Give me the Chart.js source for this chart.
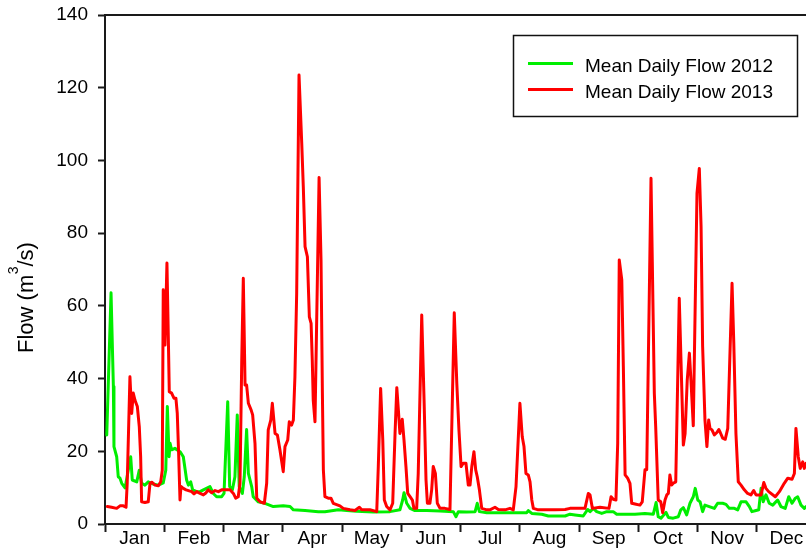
<!DOCTYPE html>
<html>
<head>
<meta charset="utf-8">
<title>Mean Daily Flow</title>
<script src="https://cdn.jsdelivr.net/npm/chart.js@4"></script>
<style>
  html, body { margin: 0; padding: 0; overflow: hidden; background: #fff; }
  #wrap { position: absolute; left: 0; top: 0; width: 830px; height: 554px; }
</style>
</head>
<body>
<div id="wrap"><canvas id="flowChart"></canvas></div>
<script>
// Month names shown under the axis (one per equal-width month band)
const monthLabels = ['Jan', 'Feb', 'Mar', 'Apr', 'May', 'Jun', 'Jul', 'Aug', 'Sep', 'Oct', 'Nov', 'Dec'];
const yTickValues = [0, 20, 40, 60, 80, 100, 120, 140];

// Mean daily flow 2012 (day of year, m3/s)
const days2012 = [0.9,3.1,4.3,4.6,6.0,6.8,7.7,8.6,10.3,13.2,
  14.0,16.3,17.6,18.8,20.5,22.2,24.8,27.4,29.9,31.2,
  32.0,32.9,33.4,34.2,35.9,38.5,40.2,41.9,42.8,44.0,
  45.0,47.1,48.8,50.5,53.9,55.6,57.3,59.9,61.1,63.0,
  64.0,65.4,66.7,67.9,68.9,70.5,71.5,72.7,73.6,75.3,
  76.1,78.7,82.1,86.4,91.5,95.0,96.7,102.7,109.5,112.9,
  119.8,124.1,129.2,137.7,146.3,151.4,152.8,153.5,154.9,156.6,
  159.1,165.2,172.0,178.8,180.2,181.4,185.7,190.0,191.1,192.2,
  196.0,202.8,209.6,216.5,217.3,219.1,224.2,227.6,236.2,238.7,
  241.3,245.5,247.8,249.0,250.7,252.4,255.0,257.6,260.9,262.7,
  272.1,277.2,281.5,282.9,284.0,285.4,288.0,289.2,291.7,294.3,
  295.6,296.9,298.6,300.3,302.0,303.0,304.3,305.5,306.8,308.0,
  310.2,312.8,314.5,317.1,318.8,320.5,323.1,324.8,326.5,329.1,
  330.8,332.1,334.2,335.6,336.8,337.9,339.3,341.0,342.8,345.3,
  347.0,349.2,351.0,352.7,354.4,355.6,357.3,359.0,359.9];
const flow2012 = [24.5,63.6,37.8,21.3,18.5,13.0,12.6,11.2,9.9,18.5,
  12.1,11.6,14.8,11.2,10.7,11.6,11.0,10.7,11.3,14.8,
  32.3,18.5,22.2,20.4,20.8,19.9,18.5,12.1,10.7,11.6,
  9.4,8.9,8.9,9.4,10.3,8.4,7.5,7.5,8.4,33.6,
  10.3,9.4,13.0,30.0,10.3,8.4,13.0,26.0,13.9,10.3,
  7.5,6.1,5.7,4.8,5.0,4.8,3.9,3.7,3.4,3.4,
  3.9,3.7,3.5,3.3,3.4,3.9,6.6,8.6,5.7,4.3,
  3.7,3.7,3.6,3.4,2.0,3.4,3.3,3.4,5.7,3.4,
  3.1,3.1,3.1,3.1,3.7,2.9,2.7,2.2,2.2,2.7,
  2.5,2.2,4.0,3.4,4.3,3.4,2.9,3.4,3.4,2.7,
  2.7,2.9,2.7,5.9,2.0,1.6,3.2,1.8,1.6,2.0,
  3.9,4.5,2.5,5.7,7.5,9.8,6.6,6.1,3.4,5.2,
  4.8,4.3,5.7,5.7,5.4,4.3,4.3,3.9,6.1,6.1,
  4.8,3.4,3.7,3.9,9.8,6.1,8.0,5.7,5.2,6.6,
  4.8,4.3,7.5,5.7,7.1,7.5,5.2,4.3,4.8];

// Mean daily flow 2013 (day of year, m3/s)
const days2013 = [1.2,3.4,6.0,7.7,9.4,10.8,11.4,12.8,13.7,14.5,
  15.4,16.6,17.6,18.3,18.8,20.5,22.2,23.1,24.0,25.7,
  27.4,28.6,29.4,29.9,30.8,31.8,32.5,33.0,34.2,35.4,
  36.4,37.1,37.8,38.5,39.0,40.2,41.6,44.5,45.7,47.1,
  48.8,50.5,51.9,53.0,54.8,56.5,58.2,59.9,62.5,64.2,
  65.9,67.1,68.4,69.3,70.2,71.0,71.9,72.7,73.6,75.0,
  75.8,77.0,77.9,79.6,81.8,83.0,83.8,85.1,85.9,87.3,
  88.5,89.8,91.5,92.4,93.8,94.6,95.8,96.7,97.5,98.4,
  99.6,101.0,101.8,102.7,103.9,104.9,105.8,106.4,106.9,107.8,
  109.9,110.9,111.6,112.1,112.9,114.6,116.0,117.2,120.6,122.3,
  125.8,128.3,130.6,131.8,136.0,139.5,140.3,141.5,142.6,143.4,
  144.6,146.3,147.7,148.9,149.8,150.6,151.4,152.6,153.5,154.5,
  155.4,156.6,157.8,158.6,160.0,160.8,162.6,163.8,164.8,165.5,
  166.8,167.7,168.5,169.6,170.6,172.0,174.5,177.1,179.3,180.6,
  181.7,182.8,183.9,185.3,186.5,187.4,188.3,189.4,190.3,191.1,
  192.2,193.4,196.0,197.6,200.2,201.9,205.3,207.9,209.6,211.0,
  213.0,214.2,215.1,216.1,217.3,218.2,219.1,219.9,222.4,225.9,
  231.0,236.2,238.7,246.4,248.1,249.0,250.2,254.1,258.7,259.8,
  260.9,262.3,263.2,264.0,265.3,266.1,267.0,268.3,269.5,270.4,
  272.1,274.6,275.8,277.2,278.1,280.3,282.0,282.7,284.0,285.3,
  286.3,287.5,288.4,289.2,290.0,290.9,291.7,293.0,294.8,296.9,
  297.8,298.9,300.0,300.8,302.0,303.9,305.1,306.0,306.8,308.0,
  309.0,309.9,310.6,311.6,312.8,314.0,315.1,315.9,317.1,318.4,
  319.7,321.9,322.8,323.9,325.1,326.5,328.2,329.9,331.6,333.0,
  334.2,336.8,338.2,339.3,340.7,344.1,346.2,348.7,350.5,352.7,
  353.9,354.7,355.9,356.9,358.2,359.0,359.9];
const flow2013 = [4.8,4.6,4.3,5.0,5.0,4.6,11.2,40.5,30.4,36.0,
  34.0,32.3,26.8,18.5,6.1,5.9,6.1,11.2,11.5,10.7,
  10.5,11.6,14.8,64.4,49.2,71.8,51.5,36.4,36.0,34.6,
  34.6,30.4,19.4,6.6,10.3,9.8,9.4,8.9,8.3,8.9,
  8.4,8.0,8.6,9.4,8.6,9.2,8.9,9.4,9.4,9.4,
  8.4,7.1,7.5,11.2,45.0,67.6,38.2,38.2,33.2,31.4,
  30.0,22.2,7.1,6.1,5.7,11.2,25.9,28.6,33.2,24.9,
  24.5,20.4,14.4,21.3,23.1,28.1,27.2,28.6,40.5,63.4,
  123.5,104.7,92.8,76.3,73.5,57.0,55.2,45.1,34.1,28.1,
  95.3,72.6,36.0,14.9,7.5,7.1,7.1,5.7,5.0,4.3,
  3.9,3.7,4.6,3.9,3.9,3.4,15.8,37.3,23.1,6.6,
  4.8,3.9,5.7,24.9,37.5,31.4,24.9,28.8,23.1,15.8,
  8.4,7.5,6.6,4.3,4.3,13.9,57.5,34.1,12.1,5.7,
  5.7,9.4,15.8,13.9,5.7,4.3,4.3,4.0,58.1,38.7,
  25.9,15.8,16.7,16.7,10.7,10.7,15.8,19.9,14.9,13.0,
  9.4,4.3,3.9,3.9,4.6,4.0,3.9,4.3,3.9,10.3,
  33.2,24.0,21.3,13.9,13.5,11.6,6.6,4.3,3.9,3.9,
  3.9,4.0,4.3,4.3,8.4,8.0,4.3,4.6,4.3,7.5,
  6.8,6.6,22.2,72.6,67.1,43.3,13.5,12.6,11.2,5.7,
  5.5,5.2,6.1,14.9,14.9,95.1,36.0,26.8,6.6,6.1,
  3.1,6.6,8.0,8.4,13.5,10.7,11.2,11.6,62.1,21.7,
  24.9,39.6,47.0,39.6,27.0,90.9,97.8,81.8,48.8,28.6,
  21.3,28.6,26.3,25.9,24.5,25.1,26.0,25.1,23.6,23.3,
  26.3,66.2,49.7,24.9,11.6,10.7,9.4,8.4,8.0,9.2,
  8.0,8.0,11.4,9.8,8.9,7.5,8.9,11.2,12.6,12.3,
  13.9,26.3,18.5,15.3,17.1,15.3,16.7];

const FONT = "'Liberation Sans', Arial, Helvetica, sans-serif";
const AXIS_COLOR = '#1a1a1a';
const YEAR_DAYS = 365;
const MONTH_SPAN = YEAR_DAYS / 12;

const toPoints = (xs, ys) => xs.map((x, i) => ({ x: x, y: ys[i] }));

// Top frame line, y-axis title with superscript, and boxed legend
const decorations = {
  id: 'decorations',
  afterDraw(chart) {
    const ctx = chart.ctx;
    const area = chart.chartArea;
    ctx.save();

    // frame line along the top of the plot
    ctx.strokeStyle = AXIS_COLOR;
    ctx.lineWidth = 2;
    ctx.beginPath();
    ctx.moveTo(area.left - 1, area.top);
    ctx.lineTo(area.right, area.top);
    ctx.stroke();

    // y-axis title: Flow (m³/s)
    ctx.save();
    ctx.translate(33, 353);
    ctx.rotate(-Math.PI / 2);
    ctx.fillStyle = '#000';
    ctx.textAlign = 'left';
    ctx.textBaseline = 'alphabetic';
    ctx.font = '22px ' + FONT;
    ctx.fillText('Flow (m', 0, 0);
    let w = ctx.measureText('Flow (m').width;
    ctx.font = '14px ' + FONT;
    ctx.fillText('3', w + 0.5, -15);
    w += ctx.measureText('3').width + 0.5;
    ctx.font = '22px ' + FONT;
    ctx.fillText('/s)', w, 0);
    ctx.restore();

    // legend box
    const bx = 513.5, by = 35.5, bw = 284, bh = 81;
    ctx.fillStyle = '#fff';
    ctx.fillRect(bx, by, bw, bh);
    ctx.strokeStyle = '#111';
    ctx.lineWidth = 1.5;
    ctx.strokeRect(bx, by, bw, bh);
    ctx.font = '19px ' + FONT;
    ctx.textAlign = 'left';
    ctx.textBaseline = 'alphabetic';
    chart.data.datasets.forEach((ds, i) => {
      const cy = 63.5 + i * 26;
      ctx.strokeStyle = ds.borderColor;
      ctx.lineWidth = 3;
      ctx.beginPath();
      ctx.moveTo(528, cy);
      ctx.lineTo(573, cy);
      ctx.stroke();
      ctx.fillStyle = '#000';
      ctx.fillText(ds.label, 585, cy + 8.3);
    });
    ctx.restore();
  }
};

new Chart(document.getElementById('flowChart'), {
  type: 'line',
  data: {
    datasets: [
      {
        label: 'Mean Daily Flow 2012',
        data: toPoints(days2012, flow2012),
        borderColor: '#00ee00',
        borderWidth: 3,
        order: 1
      },
      {
        label: 'Mean Daily Flow 2013',
        data: toPoints(days2013, flow2013),
        borderColor: '#ff0000',
        borderWidth: 3,
        order: 0
      }
    ]
  },
  options: {
    responsive: true,
    maintainAspectRatio: false,
    animation: false,
    devicePixelRatio: 1,
    layout: { padding: { left: 0, top: 15, right: 14, bottom: 0 } },
    elements: {
      point: { radius: 0 },
      line: { tension: 0, borderJoinStyle: 'round', borderCapStyle: 'round', fill: false }
    },
    plugins: {
      legend: { display: false },
      tooltip: { enabled: false }
    },
    scales: {
      x: {
        type: 'linear',
        position: 'bottom',
        min: 0,
        max: YEAR_DAYS,
        afterBuildTicks(scale) {
          const t = [];
          for (let i = 0; i <= 12; i++) {
            t.push({ value: i * MONTH_SPAN });
            if (i < 12) t.push({ value: (i + 0.5) * MONTH_SPAN });
          }
          scale.ticks = t;
        },
        afterFit(scale) {
          scale.height = 30;
          scale.paddingLeft = 0;
          scale.paddingRight = 0;
        },
        ticks: {
          autoSkip: false,
          maxRotation: 0,
          padding: -5,
          color: '#000',
          font: { family: FONT, size: 19 },
          callback: (value, index) => (index % 2 === 1 ? monthLabels[(index - 1) / 2] : '')
        },
        grid: {
          drawOnChartArea: false,
          drawTicks: true,
          tickLength: 8,
          tickWidth: 2,
          tickColor: (ctx) => (ctx.index % 2 === 0 ? AXIS_COLOR : 'rgba(0,0,0,0)')
        },
        border: { display: true, color: AXIS_COLOR, width: 2 }
      },
      y: {
        min: 0,
        max: 140,
        afterBuildTicks(scale) {
          scale.ticks = yTickValues.map(v => ({ value: v }));
        },
        afterFit(scale) {
          scale.width = 105;
          scale.paddingTop = 0;
          scale.paddingBottom = 0;
        },
        ticks: {
          padding: 10,
          color: '#000',
          font: { family: FONT, size: 19 }
        },
        grid: {
          drawOnChartArea: false,
          drawTicks: true,
          tickLength: 7,
          tickWidth: 2,
          tickColor: AXIS_COLOR
        },
        border: { display: true, color: AXIS_COLOR, width: 2 }
      }
    }
  },
  plugins: [decorations]
});
</script>
</body>
</html>
